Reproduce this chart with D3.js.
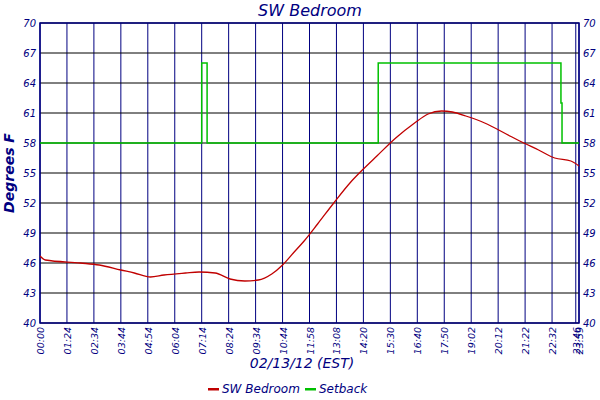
<!DOCTYPE html>
<html lang="en">
<head>
<meta charset="UTF-8">
<title>SW Bedroom</title>
<style>
    body { margin: 0; background: #fff; }
    svg { display: block; }
    text { font-family: "DejaVu Sans", sans-serif; font-style: italic; fill: #000080; }
</style>
<script src="https://d3js.org/d3.v7.min.js"></script>
</head>
<body>
<div id="graph"></div>
<script>
    // x positions are sample-index units (each grid column = 1)
    const tickPos = [0,1,2,3,4,5,6,7,8,9,10,11,12,13,14,15,16,17,18,19,19.88,20];
    const tickLabels = ["00:00","01:24","02:34","03:44","04:54","06:04","07:14","08:24","09:34","10:44",
        "11:58","13:08","14:20","15:30","16:40","17:50","19:02","20:12","21:22","22:32","23:46","23:59"];
    const yTicks = [40,43,46,49,52,55,58,61,64,67,70];

    const tempX = [0,0.2,1.5,2.2,3.0,3.5,4.1,4.6,5.4,5.9,6.5,7.05,7.6,8.1,8.6,9.0,9.4,9.8,10.3,10.9,11.5,12.0,12.5,13.2,13.9,14.4,14.9,15.3,15.8,16.5,17.3,17.8,18.5,19.1,19.7,20];
    const tempY = [46.7,46.3,46.0,45.8,45.3,45.0,44.6,44.8,45.0,45.1,45.0,44.4,44.2,44.3,44.9,45.8,47.0,48.2,49.9,52.0,54.0,55.4,56.7,58.5,60.0,60.9,61.2,61.1,60.7,60.0,58.9,58.2,57.3,56.5,56.2,55.7];

    const setX = [0,6.0,6.0,6.2,6.2,12.55,12.55,19.33,19.33,19.37,19.37,20];
    const setY = [58,58,66,66,58,58,66,66,62,62,58,58];

    const width = 600, height = 400;
    const m = { top: 23, right: 21, bottom: 77, left: 40 };
    const svg = d3.select("#graph").append("svg").attr("width", width).attr("height", height);

    const x = d3.scaleLinear().domain([0, 20]).range([m.left, width - m.right]);
    const y = d3.scaleLinear().domain([40, 70]).range([height - m.bottom, m.top]);
    const navy = "#000080";

    // grid
    svg.append("g").selectAll("line").data(tickPos).enter().append("line")
        .attr("x1", d => x(d)).attr("x2", d => x(d))
        .attr("y1", y(40)).attr("y2", y(70))
        .attr("stroke", navy).attr("stroke-width", 1);
    svg.append("g").selectAll("line").data(yTicks).enter().append("line")
        .attr("x1", x(0)).attr("x2", x(20))
        .attr("y1", d => y(d)).attr("y2", d => y(d))
        .attr("stroke", "#000").attr("stroke-width", 1);
    svg.append("rect")
        .attr("x", x(0)).attr("y", y(70))
        .attr("width", x(20) - x(0)).attr("height", y(40) - y(70))
        .attr("fill", "none").attr("stroke", navy).attr("stroke-width", 1.5);

    // axis labels
    svg.append("g").selectAll("text").data(yTicks).enter().append("text")
        .attr("x", x(0) - 4).attr("y", d => y(d) + 4)
        .attr("text-anchor", "end").attr("font-size", 10).text(d => d);
    svg.append("g").selectAll("text").data(yTicks).enter().append("text")
        .attr("x", x(20) + 4).attr("y", d => y(d) + 4)
        .attr("text-anchor", "start").attr("font-size", 10).text(d => d);
    svg.append("g").selectAll("text").data(tickPos).enter().append("text")
        .attr("transform", d => `translate(${x(d) + 4},${y(40) + 4}) rotate(-90)`)
        .attr("text-anchor", "end").attr("font-size", 9.5)
        .text((d, i) => tickLabels[i]);

    // lines
    const line = d3.line().x(d => x(d[0])).y(d => y(d[1]));
    svg.append("path").datum(setX.map((v, i) => [v, setY[i]]))
        .attr("d", line).attr("fill", "none").attr("stroke", "#00c000").attr("stroke-width", 1.5);
    svg.append("path").datum(tempX.map((v, i) => [v, tempY[i]]))
        .attr("d", line.curve(d3.curveMonotoneX)).attr("fill", "none").attr("stroke", "#c00000").attr("stroke-width", 1.3);

    // titles
    svg.append("text").attr("x", 310).attr("y", 16).attr("text-anchor", "middle")
        .attr("font-size", 16).text("SW Bedroom");
    svg.append("text").attr("transform", `translate(14,${(y(40) + y(70)) / 2}) rotate(-90)`)
        .attr("text-anchor", "middle").attr("font-size", 14).attr("font-weight", "bold")
        .attr("font-family", "'DejaVu Serif', serif").text("Degrees F");
    svg.append("text").attr("x", 302).attr("y", 368).attr("text-anchor", "middle")
        .attr("font-size", 14).text("02/13/12 (EST)");

    // legend
    const legendItems = [
        { color: "#c00000", text: "SW Bedroom", x: 208 },
        { color: "#00c000", text: "Setback", x: 305 }
    ];
    const lg = svg.append("g");
    lg.selectAll("rect").data(legendItems).enter().append("rect")
        .attr("x", d => d.x).attr("y", 388).attr("width", 11).attr("height", 2.5).attr("fill", d => d.color);
    lg.selectAll("text").data(legendItems).enter().append("text")
        .attr("x", d => d.x + 14).attr("y", 393).attr("font-size", 12).text(d => d.text);
</script>
</body>
</html>
